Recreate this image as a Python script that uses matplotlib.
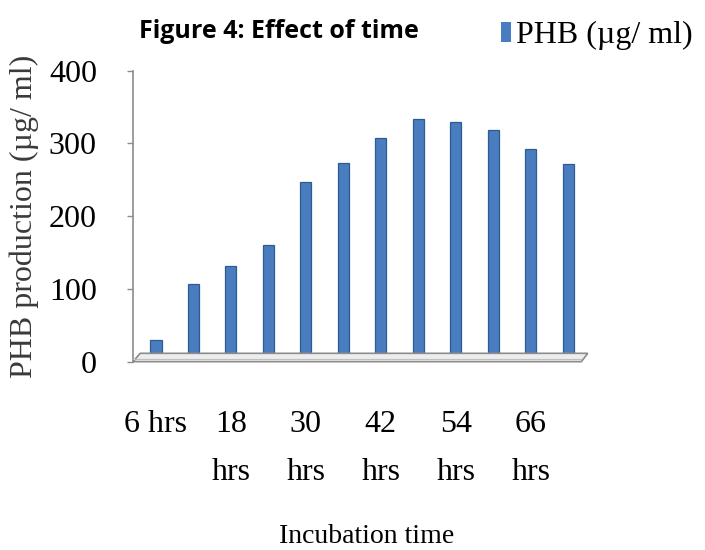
import matplotlib
matplotlib.use('Agg')
from matplotlib import pyplot as plt
from matplotlib.patches import Polygon, Patch
import numpy as np

# data
hours = [6, 12, 18, 24, 30, 36, 42, 48, 54, 60, 66, 72]
phb = [30, 107, 131, 160, 247, 273, 307, 333, 330, 319, 292, 272]
yticks = [0, 100, 200, 300, 400]

bar_col = '#4A7DBF'
edge_col = '#2E5C92'
axis_col = '#8C8C8C'
serif = 'Liberation Serif'

fig = plt.figure(figsize=(7.05, 5.5), dpi=100)
ax = fig.add_axes([0.1887, 0.3424, 0.645, 0.529])

x = np.arange(len(hours))
ax.bar(x, phb, width=0.3, color=bar_col, edgecolor=edge_col, linewidth=0.9, zorder=2)

ax.set_xlim(-0.61, 11.52)
ax.set_ylim(0, 400)

# floor slab of the 3d chart
floor = Polygon([(-0.61, 0), (11.35, 0), (11.52, 11.5), (-0.42, 11.5)],
                closed=True, facecolor='#EDEDED', edgecolor=axis_col,
                linewidth=1.2, zorder=3, clip_on=False)
ax.add_patch(floor)
ax.plot([-0.61, 11.35], [3, 3], color='#BFBFBF', lw=0.8, zorder=3, clip_on=False)

for s in ['top', 'right', 'bottom']:
    ax.spines[s].set_visible(False)
ax.spines['left'].set_color(axis_col)
ax.spines['left'].set_linewidth(1.2)

ax.set_yticks(yticks)
ax.set_yticklabels([str(v) for v in yticks], fontfamily=serif, fontsize=23)
ax.tick_params(axis='y', length=4, width=1, color=axis_col, pad=22)

lab_pos = x[::2]
lab_txt = ['6 hrs'] + ['%d\nhrs' % h for h in hours[2::2]]
ax.set_xticks(lab_pos)
ax.set_xticklabels(lab_txt, fontfamily=serif, fontsize=23, va='top', linespacing=1.85)
ax.tick_params(axis='x', length=0, pad=35)

ax.set_ylabel('PHB production (µg/ ml)', fontfamily=serif, fontsize=23,
              labelpad=7, color='#3A3A3A')
fig.text(0.52, 0.024, 'Incubation time', fontfamily=serif, fontsize=20,
         ha='center', va='center')

fig.text(0.395, 0.943, 'Figure 4: Effect of time', fontfamily='Open Sans',
         fontweight='bold', fontsize=18, ha='center', va='center')

fig.legend(handles=[Patch(facecolor=bar_col, edgecolor='none')],
           labels=['PHB (µg/ ml)'], loc='center left',
           bbox_to_anchor=(0.688, 0.935), frameon=False,
           prop={'family': serif, 'size': 23},
           handlelength=0.32, handleheight=0.6, handletextpad=0.15, borderpad=0)

plt.savefig('out.png', dpi=100)
